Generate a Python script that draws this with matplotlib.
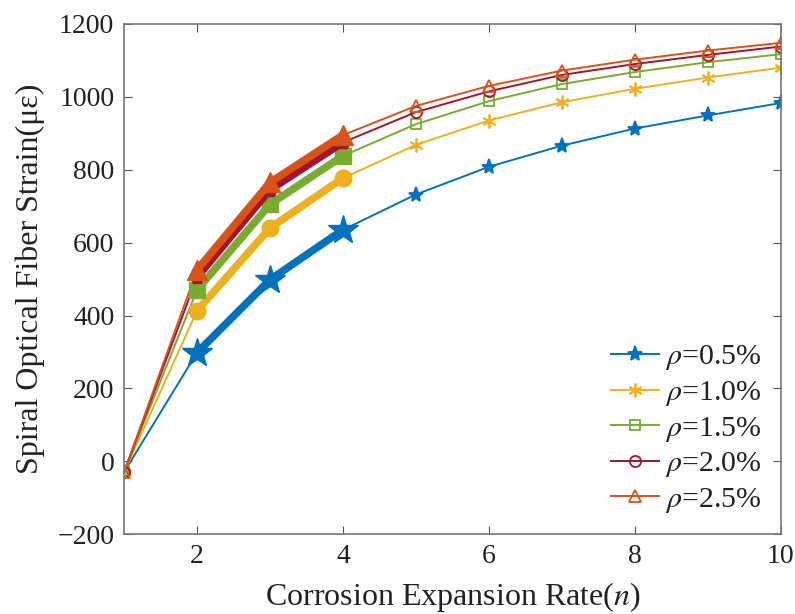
import numpy as np
import matplotlib
matplotlib.use("Agg")
import matplotlib.pyplot as plt

plt.rcParams['font.family'] = ['Liberation Serif', 'DejaVu Serif']
plt.rcParams['mathtext.fontset'] = 'stix'

n = [1, 2, 3, 4, 5, 6, 7, 8, 9, 10]
labels = ['0.5', '1.0', '1.5', '2.0', '2.5']
strain_05 = [-30, 298, 498, 635, 732, 808, 866, 913, 949, 983]
strain_10 = [-30, 413, 640, 777, 868, 935, 985, 1022, 1053, 1080]
strain_15 = [-30, 470, 705, 838, 925, 988, 1035, 1068, 1095, 1117]
strain_20 = [-30, 505, 745, 875, 958, 1015, 1060, 1090, 1115, 1138]
strain_25 = [-30, 525, 765, 895, 975, 1030, 1072, 1102, 1127, 1148]
# n range drawn as the bold segment
bold_range = [2, 4]

series = [strain_05, strain_10, strain_15, strain_20, strain_25]
colors = ['#0072BD', '#EDB120', '#77AC30', '#A2142F', '#D95319']
markers = ['*', (6, 2, 0), 's', 'o', '^']
small_ms = [11, 10, 7, 8, 9]
small_fill = [True, True, False, False, False]
bold_markers = ['*', 'o', 's', 'p', '^']
bold_ms = [22, 12, 11, 11, 14]

fig, ax = plt.subplots(figsize=(7.95, 6.14), dpi=100)
fig.subplots_adjust(left=0.156, right=0.982, top=0.961, bottom=0.13)

x = np.array(n)
for vals, c, m, ms, filled, lab in zip(series, colors, markers, small_ms, small_fill, labels):
    ax.plot(x, vals, color=c, lw=1.4, marker=m, ms=ms,
            mfc=c if filled else 'none', mec=c, mew=1.3,
            label=r'$\rho$=' + lab + '%', zorder=2)

for vals, c, m, ms in zip(series, colors, bold_markers, bold_ms):
    sel = (x >= bold_range[0]) & (x <= bold_range[1])
    ax.plot(x[sel], np.array(vals)[sel], color=c, lw=5.5, marker=m, ms=ms,
            mfc=c, mec=c, zorder=3)

ax.set_xlim(1, 10)
ax.set_ylim(-200, 1200)
ax.set_xticks([2, 4, 6, 8, 10])
ax.set_yticks(range(-200, 1201, 200))
ax.tick_params(direction='in', top=True, right=True, labelsize=20,
               length=6, pad=7, color='#555555', labelcolor='#222222')
for s in ax.spines.values():
    s.set_color('#777777')
    s.set_linewidth(1.2)

ax.set_xlabel(r'Corrosion Expansion Rate($n$)', fontsize=23, color='#222222',
              labelpad=8)
ax.set_ylabel(r'Spiral Optical Fiber Strain(με)', fontsize=23, color='#222222',
              labelpad=9)

leg = ax.legend(loc='lower right', frameon=False, fontsize=21.5,
                handlelength=1.6, handletextpad=0.2, labelspacing=0.22,
                borderaxespad=0.25)
for t in leg.get_texts():
    t.set_color('#222222')

fig.savefig('out.png', dpi=100)
